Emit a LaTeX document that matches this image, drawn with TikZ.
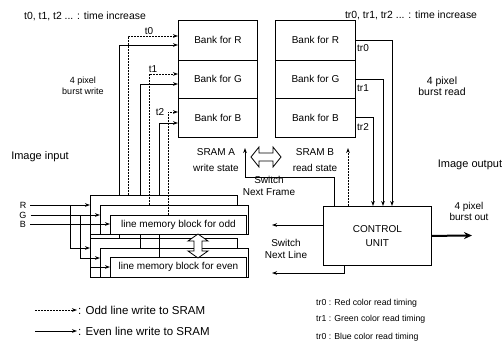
\documentclass[tikz,border=0pt]{standalone}
\usepackage{fontspec}
\setmainfont{Liberation Sans}
\usetikzlibrary{arrows.meta}
\begin{document}
\begin{tikzpicture}[x=1pt,y=-1pt,
  font=\fontsize{10}{11}\selectfont,
  box/.style={draw, line width=0.8pt, fill=white, inner sep=0pt, anchor=north west},
  wire/.style={line width=0.9pt},
  oddw/.style={wire, dash pattern=on 2pt off 1pt},
  tip/.style={-{Stealth[length=5pt,width=3.6pt]}},
  lbl/.style={inner sep=0pt, align=center},
  hollow/.style={draw, line width=0.8pt, fill=white, line join=miter}
]
\useasboundingbox (0,0) rectangle (503,345);

% titles
\node[lbl, font=\fontsize{10.4}{12}\selectfont] (ttl1) at (85,16) {t0, t1, t2 ... : time increase};
\node[lbl, font=\fontsize{10.4}{12}\selectfont] (ttl2) at (411,15) {tr0, tr1, tr2 ... : time increase};

% SRAM A
\node[box, minimum width=79pt, minimum height=40pt] (aR) at (178,20) {Bank for R};
\node[box, minimum width=79pt, minimum height=38pt] (aG) at (178,60) {Bank for G};
\node[box, minimum width=79pt, minimum height=39pt] (aB) at (178,98) {Bank for B};
% SRAM B
\node[box, minimum width=80pt, minimum height=40pt] (bR) at (275,20) {Bank for R};
\node[box, minimum width=80pt, minimum height=38pt] (bG) at (275,60) {Bank for G};
\node[box, minimum width=80pt, minimum height=39pt] (bB) at (275,98) {Bank for B};

\node[lbl, font=\fontsize{10}{16}\selectfont] (sa) at (216,160) {SRAM A\\write state};
\node[lbl, font=\fontsize{10}{16}\selectfont] (sb) at (315,160) {SRAM B\\read state};

% hollow switch arrow between SRAMs
\draw[hollow] (251,157) -- (259,147) -- (259,153) -- (273,153) -- (273,147) -- (281,157)
  -- (273,167) -- (273,161) -- (259,161) -- (259,167) -- cycle;

\node[lbl, font=\fontsize{10}{12}\selectfont] (snf) at (269,186) {Switch\\Next Frame};
\node[lbl, font=\fontsize{10}{12}\selectfont] (snl) at (286,249) {Switch\\Next Line};

% control unit
\node[box, minimum width=108pt, minimum height=59pt, align=center,
      font=\fontsize{10}{14}\selectfont] (cu) at (323,206) {CONTROL\\UNIT};

% read lines
\draw[wire,tip] (bR.east) -| (cu.north -| 392,0);
\draw[wire,tip] (bG.east) -| (cu.north -| 383,0);
\draw[wire,tip] (bB.east) -| (cu.north -| 373,0);
\node[lbl, anchor=west] (ltr0) at (357,48) {tr0};
\node[lbl, anchor=west] (ltr1) at (357,88) {tr1};
\node[lbl, anchor=west] (ltr2) at (357,127) {tr2};

\node[lbl, font=\fontsize{10.5}{11.5}\selectfont] (bread) at (442,86) {4 pixel\\burst read};

% control lines up
\coordinate (upB) at (348,148);
\draw[oddw,tip] (cu.north -| upB) -- (upB);
\coordinate (upA) at (245,148);
\draw[wire,tip] (cu.north -| 334,0) |- (upA |- 0,177) -- (upA);

% switch next line
\coordinate (snl1) at (272,225);
\draw[wire,tip] (cu.west |- snl1) -- (snl1);
\coordinate (snl2) at (272,273);
\draw[wire,tip] (cu.south -| 344,0) |- (snl2);

% output
\node[lbl, font=\fontsize{11}{12}\selectfont] (imgout) at (470,165) {Image output};
\node[lbl, font=\fontsize{10}{11}\selectfont] (bout) at (469,211) {4 pixel\\burst out};
\coordinate (out) at (472,235.5);
\draw[line width=2pt, -{Stealth[length=8pt,width=7pt]}] (cu.east) -- (out);

% input side
\node[lbl, font=\fontsize{11}{12}\selectfont] (imgin) at (40,157) {Image input};
\node[lbl, font=\fontsize{9}{11}\selectfont] (bwrite) at (83,86) {4 pixel\\burst write};
\node[lbl, font=\fontsize{9}{10}\selectfont] (inR) at (23,205) {R};
\node[lbl, font=\fontsize{9}{10}\selectfont] (inG) at (23,215) {G};
\node[lbl, font=\fontsize{9}{10}\selectfont] (inB) at (23,224) {B};

% even line memory (behind)
\node[box, minimum width=147pt, minimum height=39pt] (eR) at (90,238) {};
\node[box, minimum width=148pt, minimum height=29pt] (eG) at (100,248) {};
\node[box, minimum width=136pt, minimum height=20pt] (eB) at (110,257) {line memory block for even};

% even write lines (solid)
\draw[wire,tip] (eR.north -| 119,0) |- (aR.west |- 0,45);
\draw[wire,tip] (eG.north -| 140,0) |- (aG.west |- 0,84);
\draw[wire,tip] (eB.north -| 159,0) |- (aB.west |- 0,123);

% odd line memory
\node[box, minimum width=147pt, minimum height=39pt] (oR) at (90,195) {};
\node[box, minimum width=148pt, minimum height=29pt] (oG) at (100,205) {};
\node[box, minimum width=136pt, minimum height=19pt] (oB) at (110,215) {line memory block for odd};

% odd write lines (dashed)
\draw[oddw,tip] (oR.north -| 128,0) |- (aR.west |- 0,36);
\draw[oddw,tip] (oG.north -| 149,0) |- (aG.west |- 0,74);
\draw[oddw,tip] (oB.north -| 168,0) |- (aB.west |- 0,112);

\node[lbl] (lt0) at (149,31) {t0};
\node[lbl] (lt1) at (153,69) {t1};
\node[lbl] (lt2) at (160,112) {t2};

% inputs
\draw[wire,tip] ([xshift=4pt]inR.east) -- (oR.west |- inR.east);
\draw[wire,tip] ([xshift=4pt]inG.east) -- (oG.west |- inG.east);
\draw[wire,tip] ([xshift=4pt]inB.east) -- (oB.west |- inB.east);
\draw[wire,tip] (inR.east -| 70,0) |- (eR.west |- 0,248);
\draw[wire,tip] (inG.east -| 80,0) |- (eG.west |- 0,258);
\draw[wire,tip] (inB.east -| 90,0) |- (eB.west |- 0,267);

% hollow switch arrow between line memories
\draw[hollow] (198,234) -- (188,241) -- (194,241) -- (194,251) -- (188,251) -- (198,258)
  -- (208,251) -- (202,251) -- (202,241) -- (208,241) -- cycle;

% legends
\coordinate (lg1s) at (35,310); \coordinate (lg1e) at (77,310);
\coordinate (lg2s) at (35,331); \coordinate (lg2e) at (77,331);
\draw[oddw,tip] (lg1s) -- (lg1e);
\draw[wire,tip] (lg2s) -- (lg2e);
\node[lbl, anchor=west, font=\fontsize{11.5}{12}\selectfont] (lg1) at (78,310) {: Odd line write to SRAM};
\node[lbl, anchor=west, font=\fontsize{11.5}{12}\selectfont] (lg2) at (78,331) {: Even line write to SRAM};

\node[lbl, anchor=west, font=\fontsize{8.7}{10}\selectfont] (rl1) at (316,303) {tr0 : Red color read timing};
\node[lbl, anchor=west, font=\fontsize{8.7}{10}\selectfont] (rl2) at (316,319) {tr1 : Green color read timing};
\node[lbl, anchor=west, font=\fontsize{8.7}{10}\selectfont] (rl3) at (316,337) {tr0 : Blue color read timing};
\end{tikzpicture}
\end{document}
